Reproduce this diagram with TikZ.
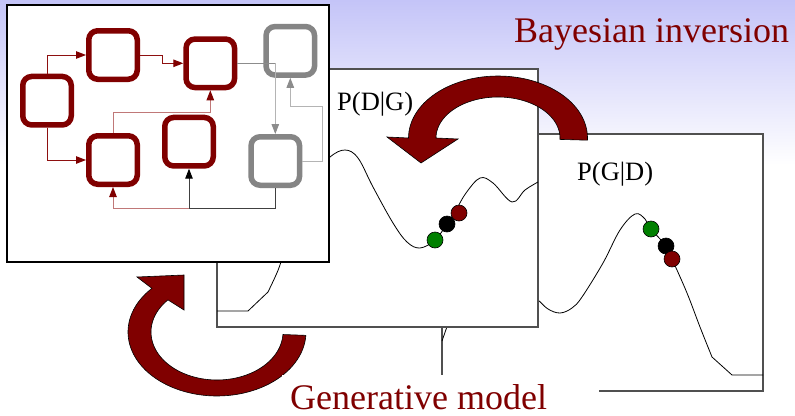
\documentclass[tikz,border=0pt]{standalone}
\usepackage{fontspec}
\setmainfont{Liberation Serif}
\usetikzlibrary{arrows.meta,calc}
\definecolor{dred}{HTML}{800000}
\definecolor{mred}{HTML}{8E1010}
\definecolor{lred}{HTML}{C07878}
\definecolor{gnode}{HTML}{858585}
\definecolor{gline}{HTML}{B4B4B4}
\definecolor{gmid}{HTML}{8C8C8C}
\definecolor{bgtop}{HTML}{C4C4F8}
\definecolor{framec}{HTML}{505050}
\definecolor{dgreen}{HTML}{008000}
\begin{document}
\begin{tikzpicture}[x=1pt,y=-1pt,
  rbox/.style={draw=dred,line width=5.5pt,rounded corners=9pt,minimum width=48.5pt,minimum height=48.5pt,inner sep=0pt},
  gbox/.style={rbox,draw=gnode},
  ed/.style={line width=1pt},
  tipdr/.style={-{Triangle[length=10pt,width=7.5pt,color=dred]}},
  tipg/.style={-{Triangle[length=10pt,width=7.5pt,color=gmid]}},
  tipk/.style={-{Triangle[length=10pt,width=7.5pt,color=black]}},
  panel/.style={fill=white,draw=framec,line width=1.1pt},
  curve/.style={draw=black,line width=0.8pt},
  dot/.style={draw=black,line width=0.6pt},
  bigarrow/.style={fill=dred,draw=black,line width=0.6pt},
  lbl/.style={anchor=base west,inner sep=0pt,text depth=0pt},
  bigtxt/.style={lbl,text=dred,font=\fontsize{36}{40}\selectfont},
  smalltxt/.style={lbl,text=black,font=\fontsize{26.5}{30}\selectfont}
]
\useasboundingbox (0,0) rectangle (795,415);
% background
\fill[white] (0,0) rectangle (795,415);
\shade[top color=bgtop,bottom color=white] (0,0) rectangle (795,165);

% panel 3 : P(G|D)
\draw[panel] (442,134) rectangle (763,391);
\draw[curve] (442,341) -- (450,318);
\draw[curve] plot[smooth,tension=0.6] coordinates {(528,294) (538,300) (548,309) (560,313) (572,308) (582,297) (603,263) (620,230) (635,214) (645,219) (651,229) (666,246) (672,259) (687,293) (700,327) (712,357)} -- (732,375) -- (763,375);
\fill[dot,fill=black] (666,246) circle (8pt);
\fill[dot,fill=dgreen] (651,229) circle (8pt);
\fill[dot,fill=dred] (672,259) circle (8pt);
\node[smalltxt] (pgd) at (577,180) {P(G|D)};

% panel 2 : P(D|G)
\draw[panel] (217,69) rectangle (538,327);
\draw[curve] (217,311) -- (248,311) -- (268,292) plot[smooth,tension=0.6] coordinates {(268,292) (276,275) (281,262) (295,220) (315,175) (330,157) (345,150) (358,158) (373,187) (393,223) (407,242) (420,248) (435,240) (447,224) (456,210) (466,193) (480,178) (493,183) (512,202) (525,190) (538,182)};
\fill[dot,fill=black] (447,224) circle (8pt);
\fill[dot,fill=dred] (459,213) circle (8pt);
\fill[dot,fill=dgreen] (435,240) circle (8pt);
\node[smalltxt] (pdg) at (337,110) {P(D|G)};

% top curved arrow (Bayesian inversion)
\filldraw[bigarrow]
  plot[domain=0:182,samples=60,variable=\t] ({498+89.5*cos(2-\t)},{138+62*sin(2-\t)})
  -- (387,137) -- (421,163) -- (458,139)
  -- plot[domain=-180:2,samples=60,variable=\t] ({498+62*cos(\t)},{138+41*sin(\t)})
  -- cycle;

% panel 1 : graph
\draw[fill=white,draw=black,line width=1.1pt] (7,5) rectangle (329,262);
\node[rbox] (A) at (47,100.7) {};
\node[rbox] (B) at (113,55) {};
\node[rbox] (C) at (210.3,63.3) {};
\node[gbox] (D) at (290.3,50.8) {};
\node[rbox] (E) at (113,160) {};
\node[rbox] (F) at (189,141.7) {};
\node[gbox] (G) at (275.3,161) {};
\draw[ed,draw=mred,tipdr] (A.north) |- (B.west);
\draw[ed,draw=mred,tipdr] (A.south) |- (E.west);
\draw[ed,draw=mred,tipdr] (B.east) -- ++(22,0) |- (C.west);
\draw[ed,draw=lred,tipdr] (E.north) -- ++(0,-21) -| (C.south);
\coordinate (cg) at (C.east -| G.north);
\draw[ed,draw=gmid] (C.east) -- (cg);
\draw[ed,draw=gline,tipg] (cg) -- (G.north);
\draw[ed,draw=gline,tipg] (G.east) -| ++(20,-55) -| (D.south);
\path (G.south) ++(0,20) coordinate (gd);
\coordinate (jn) at (gd -| F.south);
\draw[ed,draw=lred,tipdr] (jn) -| (E.south);
\draw[ed,draw=black!75,tipk] (G.south) -- (gd) -- (jn) -- (F.south);

% bottom curved arrow (generative model)
\filldraw[bigarrow]
  plot[domain=3:223,samples=70,variable=\t] ({217+89*cos(\t)},{332+64*sin(\t)})
  -- (137,277) -- (184,275) -- (184,310)
  -- plot[domain=3:222,samples=70,variable=\t] ({217+66*cos(225-\t)},{332+48*sin(225-\t)})
  -- cycle;

% labels
\fill[white] (282,375) rectangle (599,416);
\node[bigtxt] (gm) at (290,409) {Generative model};
\node[bigtxt] (bi) at (514,42) {Bayesian inversion};
\end{tikzpicture}
\end{document}
